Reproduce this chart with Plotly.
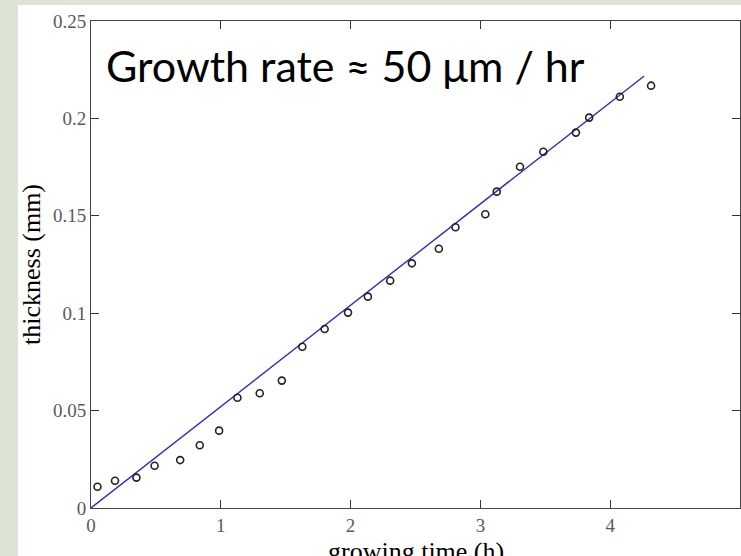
import plotly.graph_objects as go

# measured data points
time_h = [0.05, 0.185, 0.35, 0.49, 0.687, 0.838, 0.987, 1.128, 1.30, 1.47, 1.628, 1.80, 1.98,
          2.133, 2.305, 2.472, 2.68, 2.808, 3.038, 3.126, 3.305, 3.485, 3.736, 3.838, 4.074, 4.315]
thickness_mm = [0.0109, 0.014, 0.0156, 0.0217, 0.0246, 0.0322, 0.0397, 0.0566, 0.0589, 0.0654,
                0.0828, 0.0919, 0.1003, 0.1085, 0.1167, 0.1256, 0.1331, 0.1441, 0.1508, 0.1624,
                0.1752, 0.1829, 0.1927, 0.2004, 0.2111, 0.2168]

# linear fit line
fit_x = [0, 4.262]
fit_y = [0, 0.2218]

x_ticks = [0, 1, 2, 3, 4, 5]
y_ticks = [0, 0.05, 0.1, 0.15, 0.2, 0.25]
y_tick_text = ["0", "0.05", "0.1", "0.15", "0.2", "0.25"]

W, H = 741, 556
L, R, T, B = 91, 1, 21, 48
pw, ph = W - L - R, H - T - B

fig = go.Figure()
fig.add_trace(go.Scatter(x=fit_x, y=fit_y, mode="lines",
                         line=dict(color="#2d2dc4", width=1.4), showlegend=False))
fig.add_trace(go.Scatter(x=time_h, y=thickness_mm, mode="markers",
                         marker=dict(symbol="circle-open", size=7, color="#222222",
                                     line=dict(width=1.6, color="#222222")),
                         showlegend=False, cliponaxis=False))

# white page area over sage background
fig.add_shape(type="rect", xref="paper", yref="paper",
              x0=(18 - L) / pw, x1=1 + (R + 2) / pw,
              y0=-(B + 2) / ph, y1=1 + (T - 5) / ph,
              fillcolor="white", line=dict(width=0), layer="below")

fig.add_annotation(text="Growth rate ≈ 50 μm / hr", xref="paper", yref="paper",
                   x=(104 - L) / pw, y=(H - B - 65) / ph, xanchor="left", yanchor="middle",
                   showarrow=False, font=dict(family="Lato", size=43, color="black"))

# x axis title, sitting low at the page edge as in the original
fig.add_annotation(text="growing time (h)", xref="paper", yref="paper",
                   x=0.5, y=-(535 - (H - B)) / ph, xanchor="center", yanchor="top",
                   showarrow=False,
                   font=dict(family="Liberation Serif", size=26, color="black"))

axis_common = dict(showgrid=False, zeroline=False, showline=True, linecolor="#444444",
                   linewidth=1, mirror="ticks", ticks="inside", ticklen=8, tickwidth=1,
                   tickcolor="#333333", automargin=False,
                   tickfont=dict(family="Liberation Serif", size=19, color="#5a5a5a"))

fig.update_xaxes(range=[0, 5], tickvals=x_ticks, **axis_common)
fig.update_yaxes(range=[0, 0.25], tickvals=y_ticks, ticktext=y_tick_text,
                 title=dict(text="thickness (mm)", standoff=4,
                            font=dict(family="Liberation Serif", size=26, color="black")),
                 **axis_common)

fig.update_layout(width=W, height=H,
                  margin=dict(l=L, r=R, t=T, b=B, autoexpand=False),
                  paper_bgcolor="#dde3d5", plot_bgcolor="white")

fig.write_html("out.html", config={"displayModeBar": False},
               post_script="document.body.style.margin='0px';"
                           "document.body.style.padding='0px';"
                           "document.body.style.overflow='hidden';")
